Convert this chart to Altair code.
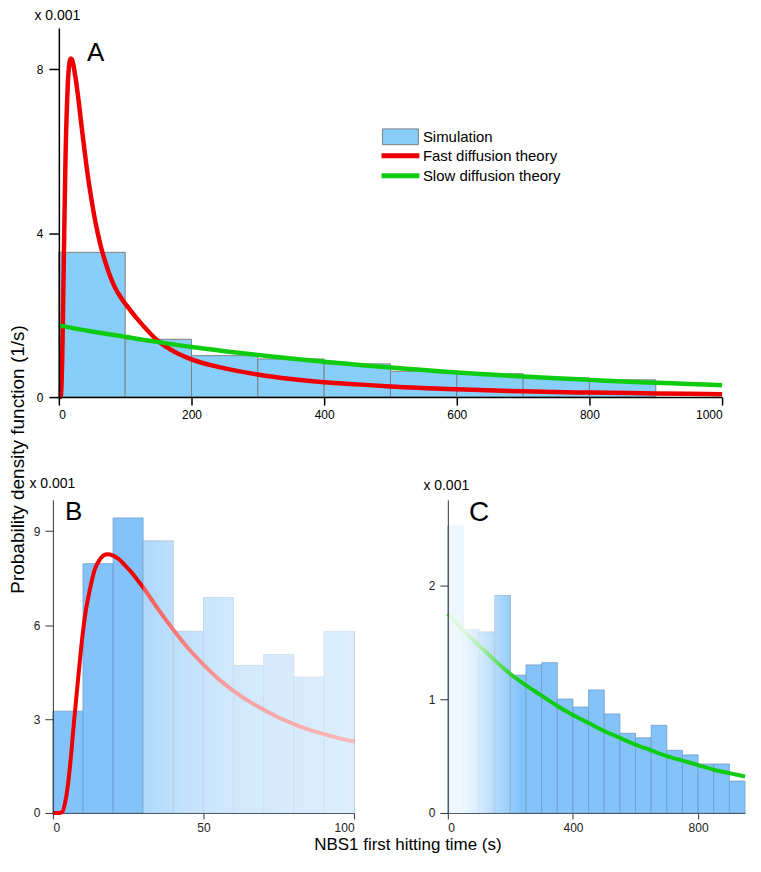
import altair as alt
import pandas as pd

FONT = "Liberation Sans"

# ---------------- data ----------------
# Panel A: simulation histogram, bins of 100 s (density x 0.001)
a_bin_start = [0, 100, 200, 300, 400, 500, 600, 700, 800]
a_bin_height = [3.53, 1.41, 1.01, 0.93, 0.81, 0.63, 0.57, 0.47, 0.42]

# Fast diffusion theory (red)
fast_t = [0, 2, 3, 4, 5, 6, 7, 8, 9, 10, 11, 12, 13, 14, 15, 16, 18, 20, 22, 24,
          26, 28, 30, 35, 40, 45, 50, 55, 60, 65, 70, 75, 80, 85, 90, 95, 100,
          125, 150, 175, 200, 250, 300, 350, 400, 450, 500, 600, 700, 800, 900, 1000]
fast_p = [0, 0, 0.02, 0.3, 0.9, 1.8, 2.9, 3.9, 4.9, 5.8, 6.5, 7.0, 7.45, 7.8, 8.0, 8.15,
          8.26, 8.22, 8.1, 7.9, 7.7, 7.45, 7.2, 6.5, 5.85, 5.25, 4.74, 4.28, 3.9, 3.57,
          3.3, 3.05, 2.84, 2.66, 2.52, 2.39, 2.28, 1.78, 1.36, 1.1, 0.92, 0.7, 0.55,
          0.44, 0.36, 0.31, 0.26, 0.19, 0.14, 0.11, 0.09, 0.07]

# Slow diffusion theory (green)
slow_t = [0, 50, 100, 150, 200, 250, 300, 350, 400, 450, 500, 550, 600, 650, 700,
          750, 800, 850, 900, 950, 1000]
slow_p = [1.75, 1.6, 1.47, 1.34, 1.22, 1.12, 1.03, 0.94, 0.86, 0.79, 0.72, 0.66,
          0.6, 0.55, 0.5, 0.46, 0.42, 0.38, 0.35, 0.32, 0.29]

# Panel B: histogram, bins of 10 s
b_bin_start = [0, 10, 20, 30, 40, 50, 60, 70, 80, 90]
b_bin_height = [3.25, 7.96, 9.42, 8.69, 5.8, 6.88, 4.71, 5.06, 4.34, 5.8]

# Panel C: histogram, bins of 50 s
c_bin_start = [0, 50, 100, 150, 200, 250, 300, 350, 400, 450, 500, 550, 600, 650,
               700, 750, 800, 850, 900]
c_bin_height = [2.52, 1.61, 1.59, 1.91, 1.21, 1.30, 1.32, 1.00, 0.93, 1.08, 0.87,
                0.70, 0.66, 0.77, 0.55, 0.51, 0.43, 0.43, 0.28]

series_names = ["Simulation", "Fast diffusion theory", "Slow diffusion theory"]
panel_letters = ["A", "B", "C"]

# ---------------- tables ----------------
def bins(starts, heights, width):
    return pd.DataFrame({"start": starts, "end": [s + width for s in starts],
                         "p": heights, "zero": [0] * len(starts),
                         "series": [series_names[0]] * len(starts)})

dfA = bins(a_bin_start, a_bin_height, 100)
dfB = bins(b_bin_start, b_bin_height, 10)
dfC = bins(c_bin_start, c_bin_height, 50)

df_fast = pd.DataFrame({"t": fast_t, "p": fast_p, "series": series_names[1]})
df_slow = pd.DataFrame({"t": slow_t, "p": slow_p, "series": series_names[2]})
df_lines = pd.concat([df_fast, df_slow], ignore_index=True)
df_lines["k"] = range(len(df_lines))

RED = "#ee0000"
GREEN = "#10cc10"
SKY = "#87cefa"
BLUE = "#84c3f9"
BLUE_EDGE = "#6e9cc6"

H_A = 370
H_BC = 314
W_B = 302
W_C = 298

# ---------------- panel A ----------------
xA = alt.Scale(domain=[0, 1000], range=[6, 671], nice=False, zero=False)
yA = alt.Scale(domain=[0, 9], nice=False)
axA_x = alt.Axis(values=[0, 200, 400, 600, 800, 1000], format="d", title=None, grid=False,
                 tickSize=8, tickWidth=1.5, domainWidth=1.5, domainColor="black",
                 tickColor="black", labelColor="black", labelFontSize=12,
                 labelPadding=4, zindex=1)
axA_y = alt.Axis(values=[0, 4, 8], format="d", grid=False, title="x 0.001", titleAngle=0,
                 titleAlign="left", titleBaseline="alphabetic", titleX=-25, titleY=-9,
                 titleFontSize=14, titleFontWeight="normal", titleColor="black",
                 tickSize=10, tickWidth=1.5, domainWidth=1.5, domainColor="black",
                 tickColor="black", labelColor="black", labelFontSize=12,
                 labelPadding=6, offset=-6, zindex=1)

barsA = alt.Chart(dfA).mark_rect(stroke="#7f7f7f", strokeWidth=1).encode(
    x=alt.X("start:Q", scale=xA, axis=axA_x),
    x2="end:Q",
    y=alt.Y("p:Q", scale=yA, axis=axA_y),
    y2="zero:Q",
    fill=alt.Fill("series:N",
                  scale=alt.Scale(domain=[series_names[0]], range=[SKY]),
                  legend=alt.Legend(title=None, orient="none", legendX=330, legendY=90.5,
                                    padding=0,
                                    symbolType="M-1,-0.44L1,-0.44L1,0.44L-1,0.44Z",
                                    symbolSize=1296, symbolStrokeColor="#7f7f7f",
                                    symbolStrokeWidth=1, symbolOpacity=1,
                                    labelFontSize=15, labelColor="black",
                                    labelFont=FONT, labelOffset=4)),
)

linesA = alt.Chart(df_lines).mark_line(strokeWidth=4.5, interpolate="monotone").encode(
    x=alt.X("t:Q", scale=xA),
    y=alt.Y("p:Q", scale=yA),
    order="k:Q",
    stroke=alt.Stroke("series:N",
                      scale=alt.Scale(domain=series_names[1:], range=[RED, GREEN]),
                      legend=alt.Legend(title=None, orient="none", legendX=341, legendY=120.5,
                                        padding=0, symbolType="M-4.75,0L4.75,0",
                                        symbolSize=64, symbolStrokeWidth=5,
                                        labelFontSize=15, labelColor="black",
                                        labelFont=FONT, labelOffset=15, rowPadding=-1)),
)

letterA = alt.Chart(pd.DataFrame({"t": [55.6], "p": [8.39], "s": [panel_letters[0]]})).mark_text(
    fontSize=26, baseline="middle", align="center", color="black").encode(
    x=alt.X("t:Q", scale=xA), y=alt.Y("p:Q", scale=yA), text="s:N")

chartA = alt.layer(barsA, linesA, letterA).properties(width=671, height=H_A)

# ---------------- panel B ----------------
xB = alt.Scale(domain=[0, 100], nice=False)
yB = alt.Scale(domain=[0, 10], nice=False)
small_axis = dict(grid=False, domainColor="#333333", tickColor="#333333", format="d",
                  labelColor="#222222", labelFontSize=12, domainWidth=1, tickWidth=1)
axB_x = alt.Axis(values=[0, 50, 100], title=None, tickSize=6, labelPadding=4, **small_axis)
axB_y = alt.Axis(values=[0, 3, 6, 9], title="x 0.001", titleAngle=0, titleAlign="left",
                 titleBaseline="alphabetic", titleX=-24, titleY=-12, titleFontSize=14,
                 titleFontWeight="normal", titleColor="black", tickSize=8,
                 labelPadding=5, zindex=1, **small_axis)

barsB = alt.Chart(dfB).mark_rect(fill=BLUE, stroke=BLUE_EDGE, strokeWidth=0.8).encode(
    x=alt.X("start:Q", scale=xB, axis=axB_x), x2="end:Q",
    y=alt.Y("p:Q", scale=yB, axis=axB_y), y2="zero:Q")
lineB = alt.Chart(df_fast[df_fast.t <= 100]).mark_line(
    color=RED, strokeWidth=4, interpolate="monotone").encode(
    x=alt.X("t:Q", scale=xB), y=alt.Y("p:Q", scale=yB))
fadeB = alt.Chart(pd.DataFrame({"a": [30], "b": [100], "lo": [0], "hi": [10]})).mark_rect(
    fill=alt.LinearGradient(
        gradient="linear", x1=0, x2=1, y1=0, y2=0,
        stops=[alt.GradientStop(color="rgba(255,255,255,0.35)", offset=0),
               alt.GradientStop(color="rgba(255,255,255,0.47)", offset=0.14),
               alt.GradientStop(color="rgba(255,255,255,0.56)", offset=0.29),
               alt.GradientStop(color="rgba(255,255,255,0.63)", offset=0.43),
               alt.GradientStop(color="rgba(255,255,255,0.72)", offset=1)])).encode(
    x=alt.X("a:Q", scale=xB), x2="b:Q", y=alt.Y("lo:Q", scale=yB), y2="hi:Q")
letterB = alt.Chart(pd.DataFrame({"t": [6.9], "p": [9.62], "s": [panel_letters[1]]})).mark_text(
    fontSize=26, baseline="middle", align="center", color="black").encode(
    x=alt.X("t:Q", scale=xB), y=alt.Y("p:Q", scale=yB), text="s:N")
chartB = alt.layer(barsB, lineB, fadeB, letterB).properties(width=W_B, height=H_BC)

# ---------------- panel C ----------------
xC = alt.Scale(domain=[0, 950], nice=False)
yC = alt.Scale(domain=[0, 2.75], nice=False)
axC_x = alt.Axis(values=[0, 400, 800], title=None, tickSize=6, labelPadding=4, **small_axis)
axC_y = alt.Axis(values=[0, 1, 2], title="x 0.001", titleAngle=0, titleAlign="left",
                 titleBaseline="alphabetic", titleX=-25, titleY=-10, titleFontSize=14,
                 titleFontWeight="normal", titleColor="black", tickSize=8,
                 labelPadding=5, zindex=1, **small_axis)

barsC = alt.Chart(dfC).mark_rect(fill=BLUE, stroke=BLUE_EDGE, strokeWidth=0.8).encode(
    x=alt.X("start:Q", scale=xC, axis=axC_x), x2="end:Q",
    y=alt.Y("p:Q", scale=yC, axis=axC_y), y2="zero:Q")
lineC = alt.Chart(df_slow[df_slow.t <= 950]).mark_line(
    color=GREEN, strokeWidth=4, interpolate="monotone").encode(
    x=alt.X("t:Q", scale=xC), y=alt.Y("p:Q", scale=yC))
fadeC = alt.Chart(pd.DataFrame({"a": [0], "b": [250], "lo": [0], "hi": [2.75]})).mark_rect(
    fill=alt.LinearGradient(
        gradient="linear", x1=0, x2=1, y1=0, y2=0,
        stops=[alt.GradientStop(color="rgba(255,255,255,0.87)", offset=0),
               alt.GradientStop(color="rgba(255,255,255,0.86)", offset=0.2),
               alt.GradientStop(color="rgba(255,255,255,0.68)", offset=0.4),
               alt.GradientStop(color="rgba(255,255,255,0.42)", offset=0.6),
               alt.GradientStop(color="rgba(255,255,255,0.15)", offset=0.8),
               alt.GradientStop(color="rgba(255,255,255,0)", offset=0.93),
               alt.GradientStop(color="rgba(255,255,255,0)", offset=1)])).encode(
    x=alt.X("a:Q", scale=xC), x2="b:Q", y=alt.Y("lo:Q", scale=yC), y2="hi:Q")
letterC = alt.Chart(pd.DataFrame({"t": [100], "p": [2.63], "s": [panel_letters[2]]})).mark_text(
    fontSize=28, baseline="middle", align="center", color="black").encode(
    x=alt.X("t:Q", scale=xC), y=alt.Y("p:Q", scale=yC), text="s:N")
chartC = alt.layer(barsC, lineC, fadeC, letterC).properties(width=W_C, height=H_BC)

bottom = alt.hconcat(
    chartB, chartC, spacing=94, bounds="flush",
    title=alt.TitleParams("NBS1 first hitting time (s)", orient="bottom", anchor="middle",
                          frame="bounds", dx=17, fontSize=17, fontWeight="normal",
                          color="black", font=FONT, offset=3))

chart = alt.vconcat(
    chartA, bottom, spacing=103, bounds="flush",
    title=alt.TitleParams("Probability density function (1/s)", orient="left",
                          anchor="middle", frame="bounds", fontSize=19, dx=-29,
                          fontWeight="normal", color="black", font=FONT, offset=1),
).properties(
    padding={"left": 0, "top": -1, "right": 0, "bottom": 0}
).configure(font=FONT).configure_view(strokeWidth=0)

chart.save("out.html", embed_options={"renderer": "svg", "actions": False})
